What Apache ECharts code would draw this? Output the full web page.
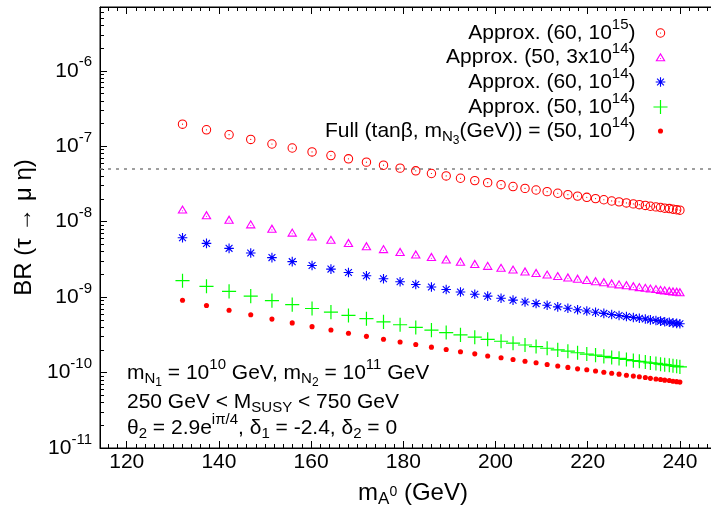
<!DOCTYPE html>
<html>
<head>
<meta charset="utf-8">
<script src="https://cdn.jsdelivr.net/npm/echarts@6/dist/echarts.min.js"></script>
<style>
  html, body { margin: 0; padding: 0; background: #fff; }
  #chart { width: 711px; height: 514px; }
</style>
</head>
<body>
<div id="chart"></div>
<script>
// m_A0 scan points (GeV), shared by every curve
const massA = [
  132.1, 137.3, 142.2, 146.9, 151.5, 155.9, 160.2, 164.3, 168.1, 172.0,
  175.7, 179.3, 182.7, 186.1, 189.3, 192.4, 195.5, 198.3, 201.2, 203.8,
  206.4, 208.8, 211.2, 213.5, 215.7, 217.8, 219.8, 221.7, 223.5, 225.2,
  226.8, 228.4, 229.9, 231.2, 232.5, 233.6, 234.8, 235.8, 236.7, 237.7,
  238.5, 239.3, 240.0
];

// BR(tau -> mu eta), approximate formula, (tan beta, m_N3) = (60, 1e15)
const brApprox60e15 = [
  1.96e-7, 1.65e-7, 1.42e-7, 1.23e-7, 1.07e-7, 9.46e-8, 8.40e-8, 7.52e-8, 6.80e-8, 6.15e-8,
  5.60e-8, 5.12e-8, 4.72e-8, 4.35e-8, 4.04e-8, 3.76e-8, 3.50e-8, 3.29e-8, 3.09e-8, 2.92e-8,
  2.76e-8, 2.63e-8, 2.50e-8, 2.38e-8, 2.28e-8, 2.18e-8, 2.10e-8, 2.02e-8, 1.95e-8, 1.88e-8,
  1.83e-8, 1.77e-8, 1.72e-8, 1.68e-8, 1.64e-8, 1.60e-8, 1.57e-8, 1.54e-8, 1.51e-8, 1.49e-8,
  1.46e-8, 1.44e-8, 1.42e-8
];

// (50, 3e14)
const brApprox50e14x3 = [
  1.46e-8, 1.23e-8, 1.07e-8, 9.30e-9, 8.14e-9, 7.23e-9, 6.44e-9, 5.80e-9, 5.26e-9, 4.78e-9,
  4.37e-9, 4.01e-9, 3.71e-9, 3.43e-9, 3.19e-9, 2.98e-9, 2.78e-9, 2.62e-9, 2.47e-9, 2.34e-9,
  2.21e-9, 2.11e-9, 2.01e-9, 1.92e-9, 1.84e-9, 1.77e-9, 1.70e-9, 1.64e-9, 1.59e-9, 1.53e-9,
  1.49e-9, 1.45e-9, 1.41e-9, 1.37e-9, 1.34e-9, 1.31e-9, 1.29e-9, 1.26e-9, 1.24e-9, 1.22e-9,
  1.20e-9, 1.19e-9, 1.17e-9
];

// (60, 1e14)
const brApprox60e14 = [
  6.12e-9, 5.15e-9, 4.43e-9, 3.84e-9, 3.34e-9, 2.95e-9, 2.62e-9, 2.35e-9, 2.12e-9, 1.92e-9,
  1.75e-9, 1.60e-9, 1.47e-9, 1.36e-9, 1.26e-9, 1.17e-9, 1.09e-9, 1.03e-9, 9.64e-10, 9.11e-10,
  8.61e-10, 8.21e-10, 7.80e-10, 7.43e-10, 7.11e-10, 6.80e-10, 6.55e-10, 6.30e-10, 6.08e-10, 5.87e-10,
  5.71e-10, 5.52e-10, 5.37e-10, 5.24e-10, 5.12e-10, 4.99e-10, 4.90e-10, 4.80e-10, 4.71e-10, 4.65e-10,
  4.56e-10, 4.49e-10, 4.43e-10
];

// (50, 1e14)
const brApprox50e14 = [
  1.65e-9, 1.39e-9, 1.19e-9, 1.03e-9, 8.99e-10, 7.95e-10, 7.06e-10, 6.32e-10, 5.71e-10, 5.17e-10,
  4.70e-10, 4.30e-10, 3.96e-10, 3.65e-10, 3.39e-10, 3.16e-10, 2.94e-10, 2.76e-10, 2.60e-10, 2.45e-10,
  2.32e-10, 2.21e-10, 2.10e-10, 2.00e-10, 1.92e-10, 1.83e-10, 1.76e-10, 1.70e-10, 1.64e-10, 1.58e-10,
  1.54e-10, 1.49e-10, 1.44e-10, 1.41e-10, 1.38e-10, 1.34e-10, 1.32e-10, 1.29e-10, 1.27e-10, 1.25e-10,
  1.23e-10, 1.21e-10, 1.19e-10
];

// full calculation, (50, 1e14)
const brFull50e14 = [
  9.10e-10, 7.73e-10, 6.70e-10, 5.84e-10, 5.11e-10, 4.55e-10, 4.06e-10, 3.66e-10, 3.32e-10, 3.02e-10,
  2.76e-10, 2.54e-10, 2.35e-10, 2.17e-10, 2.02e-10, 1.89e-10, 1.77e-10, 1.66e-10, 1.57e-10, 1.49e-10,
  1.41e-10, 1.35e-10, 1.28e-10, 1.22e-10, 1.17e-10, 1.12e-10, 1.09e-10, 1.05e-10, 1.01e-10, 9.77e-11,
  9.52e-11, 9.22e-11, 8.98e-11, 8.78e-11, 8.58e-11, 8.38e-11, 8.23e-11, 8.08e-11, 7.93e-11, 7.83e-11,
  7.68e-11, 7.58e-11, 7.47e-11
];

// experimental upper limit
const brUpperLimit = 5e-8;

// axis ticks
const xMajorTicks = [120, 140, 160, 180, 200, 220, 240];
const xMinorStep = 2;
const yMajorExponents = [-11, -10, -9, -8, -7, -6];
const yMinorMantissas = [2, 3, 4, 5, 6, 7, 8, 9];

const seriesNames = [
  'Approx. (60, 10^15)',
  'Approx. (50, 3x10^14)',
  'Approx. (60, 10^14)',
  'Approx. (50, 10^14)',
  'Full (tanβ, m_N3(GeV)) = (50, 10^14)'
];
const legendLabels = [
  '{t|Approx. (60, 10}{sup|15}{t|)}',
  '{t|Approx. (50, 3x10}{sup|14}{t|)}',
  '{t|Approx. (60, 10}{sup|14}{t|)}',
  '{t|Approx. (50, 10}{sup|14}{t|)}',
  '{t|Full (tanβ, m}{sub|N}{subsub|3}{t|(GeV)) = (50, 10}{sup|14}{t|)}'
];

const FONT = '"Liberation Sans", Arial, Helvetica, sans-serif';
const X_MIN = 114.2, X_MAX = 250;
const Y_MIN = 1e-11, Y_MAX = 7e-6;

// rich-text styles for super/subscripts
function richStyles(size, small, lh) {
  const base = { fontFamily: FONT, color: '#000', lineHeight: lh, verticalAlign: 'middle' };
  return {
    t: Object.assign({ fontSize: size }, base),
    b: Object.assign({ fontSize: size }, base),
    sup: Object.assign({ fontSize: small, padding: [0, 0, Math.round(size * 0.8), 0] }, base),
    sub: Object.assign({ fontSize: small, padding: [Math.round(size * 0.5), 0, 0, 0] }, base),
    subsub: Object.assign({ fontSize: small - 3, padding: [Math.round(size * 0.95), 0, 0, 0] }, base),
    subsup: Object.assign({ fontSize: small - 3, padding: [0, 0, Math.round(size * 0.05), 0] }, base)
  };
}

// point glyphs, all drawn in a common 20x20 box so one symbolSize keeps their relative sizes
const ANCHOR = 'M0,0 L0,0 M20,20 L20,20 ';
const SYM_RING = 'path://' + ANCHOR +
  'M3.7,10 A6.3,6.3 0 1,1 16.3,10 A6.3,6.3 0 1,1 3.7,10 Z ' +
  'M5.1,10 A4.9,4.9 0 1,0 14.9,10 A4.9,4.9 0 1,0 5.1,10 Z ' +
  'M9.2,10 A0.8,0.8 0 1,1 10.8,10 A0.8,0.8 0 1,1 9.2,10 Z';
const SYM_TRI = 'path://' + ANCHOR +
  'M10,4.2 L16.8,15.8 L3.2,15.8 Z ' +
  'M10,7.4 L5.8,14.4 L14.2,14.4 Z ' +
  'M9.25,12 A0.75,0.75 0 1,1 10.75,12 A0.75,0.75 0 1,1 9.25,12 Z';
const SYM_STAR = 'path://' + ANCHOR +
  'M3.6,9.25 L16.4,9.25 L16.4,10.75 L3.6,10.75 Z ' +
  'M9.25,3.6 L10.75,3.6 L10.75,16.4 L9.25,16.4 Z ' +
  'M5.98,4.92 L15.08,14.02 L14.02,15.08 L4.92,5.98 Z ' +
  'M4.92,14.02 L14.02,4.92 L15.08,5.98 L5.98,15.08 Z';
const SYM_PLUS = 'path://' + ANCHOR +
  'M0.6,9.2 L19.4,9.2 L19.4,10.8 L0.6,10.8 Z ' +
  'M9.2,0.6 L10.8,0.6 L10.8,19.4 L9.2,19.4 Z';
const SYM_DOT = 'path://' + ANCHOR +
  'M6.6,10 A3.4,3.4 0 1,1 13.4,10 A3.4,3.4 0 1,1 6.6,10 Z';

const SYMBOL_SIZE = 15;

function pairs(values) {
  return massA.map((m, i) => [m, values[i]]);
}

function scatter(name, values, symbol, color) {
  return {
    name: name,
    type: 'scatter',
    data: pairs(values),
    symbol: symbol,
    symbolSize: SYMBOL_SIZE,
    symbolKeepAspect: true,
    itemStyle: { color: color, opacity: 1 },
    emphasis: { disabled: true },
    silent: true,
    clip: false,
    xAxisIndex: 0,
    yAxisIndex: 0
  };
}

const xMinorTicks = [];
for (let v = Math.ceil(X_MIN / xMinorStep) * xMinorStep; v <= X_MAX; v += xMinorStep) {
  if (xMajorTicks.indexOf(v) < 0) xMinorTicks.push(v);
}
const yMajorTicks = yMajorExponents.map(e => Number('1e' + e));
const yMinorTicks = [];
yMajorExponents.forEach(e => {
  yMinorMantissas.forEach(k => {
    const v = Number(k + 'e' + e);
    if (v <= Y_MAX) yMinorTicks.push(v);
  });
});

const tickLine = { color: '#000', width: 1 };

function xAxisDef(position, ticks, len, showLine, extra) {
  return Object.assign({
    type: 'value', min: X_MIN, max: X_MAX, position: position,
    axisLine: { show: showLine, onZero: false, lineStyle: tickLine },
    axisTick: { show: true, inside: true, length: len, lineStyle: tickLine, customValues: ticks },
    axisLabel: { show: false },
    splitLine: { show: false }
  }, extra || {});
}

function yAxisDef(ticks, len, showLine, extra) {
  return Object.assign({
    type: 'log', logBase: 10, min: Y_MIN, max: Y_MAX, position: 'left',
    axisLine: { show: showLine, onZero: false, lineStyle: tickLine },
    axisTick: { show: true, inside: true, length: len, lineStyle: tickLine, customValues: ticks },
    axisLabel: { show: false },
    splitLine: { show: false }
  }, extra || {});
}

// one legend block per row keeps the row pitch fixed
const legendRowTops = [17, 41, 66, 91, 115];
const legends = seriesNames.map((name, i) => ({
  data: [name],
  orient: 'vertical',
  align: 'right',
  right: 43,
  top: legendRowTops[i],
  padding: 0,
  itemWidth: 40,
  itemHeight: SYMBOL_SIZE,
  selectedMode: false,
  formatter: () => legendLabels[i],
  textStyle: { rich: richStyles(21, 15, 24) }
}));

const chart = echarts.init(document.getElementById('chart'), null, { renderer: 'canvas' });

const option = {
  animation: false,
  backgroundColor: '#fff',
  grid: {
    left: 100, top: 7, right: -15, bottom: 66,
    show: true, borderColor: '#000', borderWidth: 1,
    outerBoundsMode: 'none'
  },
  xAxis: [
    xAxisDef('bottom', xMajorTicks, 7, true, {
      axisLabel: {
        show: true, customValues: xMajorTicks, margin: 4,
        fontSize: 21, fontFamily: FONT, color: '#000'
      },
      name: '{t|m}{sub|A}{subsup|0}{t| (GeV)}',
      nameLocation: 'middle',
      nameGap: 31,
      nameTextStyle: { rich: richStyles(24, 17, 28) }
    }),
    xAxisDef('bottom', xMinorTicks, 4, false),
    xAxisDef('top', xMajorTicks, 7, true),
    xAxisDef('top', xMinorTicks, 4, false)
  ],
  yAxis: [
    yAxisDef(yMajorTicks, 7, true, {
      axisLabel: {
        show: true, customValues: yMajorTicks, margin: 8,
        formatter: v => '{b|10}{sup|' + Math.round(Math.log10(v)) + '}',
        rich: richStyles(21, 15, 24)
      },
      name: 'BR (τ → μ η)',
      nameLocation: 'middle',
      nameRotate: 90,
      nameGap: 57,
      nameTextStyle: { fontSize: 24, fontFamily: FONT, color: '#000' }
    }),
    yAxisDef(yMinorTicks, 4, false)
  ],
  legend: legends,
  graphic: [
    {
      type: 'text', x: 127, y: 373, silent: true,
      style: {
        text: '{t|m}{sub|N}{subsub|1}{t| = 10}{sup|10}{t| GeV, m}{sub|N}{subsub|2}{t| = 10}{sup|11}{t| GeV}',
        rich: richStyles(21, 15, 26), verticalAlign: 'middle'
      }
    },
    {
      type: 'text', x: 127, y: 402, silent: true,
      style: {
        text: '{t|250 GeV < M}{sub|SUSY}{t| < 750 GeV}',
        rich: richStyles(21, 15, 26), verticalAlign: 'middle'
      }
    },
    {
      type: 'text', x: 127, y: 428, silent: true,
      style: {
        text: '{t|θ}{sub|2}{t| = 2.9e}{sup|iπ/4}{t|, δ}{sub|1}{t| = -2.4, δ}{sub|2}{t| = 0}',
        rich: richStyles(21, 15, 26), verticalAlign: 'middle'
      }
    }
  ],
  series: [
    {
      name: 'upper limit',
      type: 'line',
      data: [[X_MIN, brUpperLimit], [X_MAX, brUpperLimit]],
      symbol: 'none',
      silent: true,
      clip: true,
      lineStyle: { color: '#808080', type: [3, 5], width: 1.5 },
      xAxisIndex: 0,
      yAxisIndex: 0,
      z: 1
    },
    scatter(seriesNames[0], brApprox60e15, SYM_RING, '#ff0000'),
    scatter(seriesNames[1], brApprox50e14x3, SYM_TRI, '#ff00ff'),
    scatter(seriesNames[2], brApprox60e14, SYM_STAR, '#0000ff'),
    scatter(seriesNames[3], brApprox50e14, SYM_PLUS, '#00ff00'),
    scatter(seriesNames[4], brFull50e14, SYM_DOT, '#ff0000')
  ]
};

chart.setOption(option);
</script>
</body>
</html>
